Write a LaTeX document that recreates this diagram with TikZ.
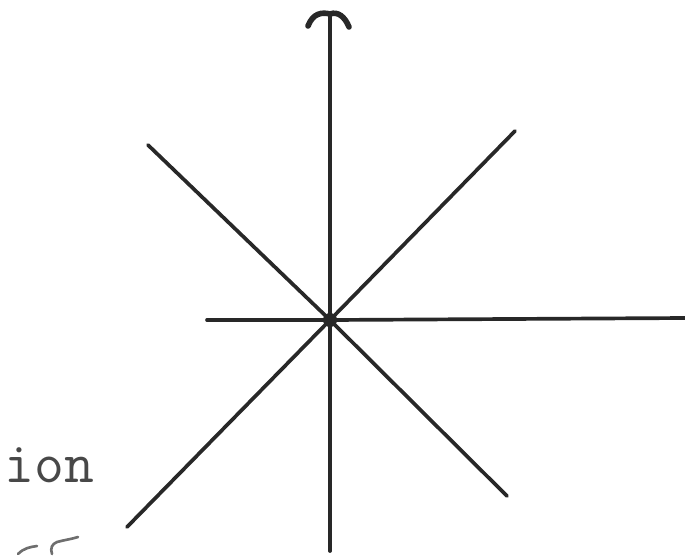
\documentclass[tikz,border=0pt]{standalone}
\usepackage{tikz}
\usepackage{xcolor}
\definecolor{inkgray}{RGB}{40,40,40}
\definecolor{pencilgray}{RGB}{110,110,110}

\begin{document}
\begin{tikzpicture}[x=0.02cm, y=-0.02cm,
  ray/.style={draw=inkgray, line width=2.1pt, line cap=round}]

% Frame
\useasboundingbox (0,0) rectangle (685,555);

% Centre and ray ends
\coordinate (c) at (330,320);
\coordinate (top) at (330,14);
\coordinate (bot) at (330,551);
\coordinate (lft) at (207,320);
\coordinate (rgt) at (685,318);
\coordinate (ul) at (148,145);
\coordinate (ur) at (515,131);
\coordinate (lr) at (507,496);
\coordinate (ll) at (127,527);

% Rays
\foreach \e in {top,bot,lft,rgt,ul,ur,lr,ll} {
    \draw[ray] (c) -- (\e);
}

% Centre dot
\fill[inkgray] (c) circle (7);

% Hook on top
\draw[ray, line width=3.2pt] (308,26) .. controls (313,13) and (322,12) .. (top)
    .. controls (338,11) and (345,17) .. (349,27);

% Label
\node[anchor=base west, inner sep=0pt, text=inkgray!85,
      font=\fontsize{33}{36}\selectfont\ttfamily] (lbl) at (4,482) {ion};

% Pencil marks
\draw[pencilgray, line width=1.5pt, line cap=round]
    (18,554) .. controls (24,548) and (30,547) .. (37,546);
\draw[pencilgray, line width=1.5pt, line cap=round]
    (52,554) .. controls (50,548) and (52,544) .. (57,542)
    .. controls (64,540) and (72,539) .. (78,537);

\end{tikzpicture}
\end{document}
